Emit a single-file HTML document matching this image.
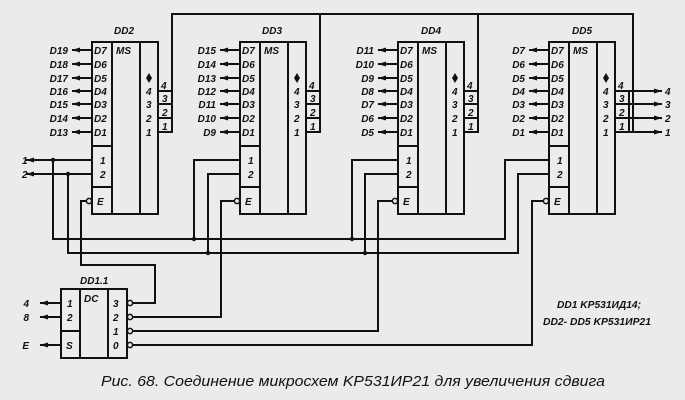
<!DOCTYPE html>
<html><head><meta charset="utf-8"><style>
html,body{margin:0;padding:0;background:#ebebe9;}
svg{display:block;}
text{font-family:"Liberation Sans",sans-serif;font-style:italic;font-weight:bold;fill:#111;}
.p{font-size:10px;}
</style></head><body>
<svg width="685" height="400" viewBox="0 0 685 400" xmlns="http://www.w3.org/2000/svg">
<defs>
<marker id="a" markerWidth="8" markerHeight="6" refX="0" refY="3" orient="auto" markerUnits="userSpaceOnUse">
<polygon points="0,3 8,0.5 8,5.5" fill="#111"/></marker>
<g id="blk" fill="none" stroke="#111" stroke-width="2">
<rect x="0" y="42" width="66" height="172"/>
<line x1="20" y1="42" x2="20" y2="214"/>
<line x1="48" y1="42" x2="48" y2="214"/>
<line x1="0" y1="146" x2="20" y2="146"/>
<line x1="0" y1="187" x2="20" y2="187"/>
<rect x="66" y="91" width="14" height="41"/>
<line x1="66" y1="104" x2="80" y2="104"/>
<line x1="66" y1="118" x2="80" y2="118"/>
<line x1="-20" y1="50" x2="0" y2="50" marker-start="url(#a)"/>
<line x1="-20" y1="64" x2="0" y2="64" marker-start="url(#a)"/>
<line x1="-20" y1="78" x2="0" y2="78" marker-start="url(#a)"/>
<line x1="-20" y1="91" x2="0" y2="91" marker-start="url(#a)"/>
<line x1="-20" y1="104" x2="0" y2="104" marker-start="url(#a)"/>
<line x1="-20" y1="118" x2="0" y2="118" marker-start="url(#a)"/>
<line x1="-20" y1="132" x2="0" y2="132" marker-start="url(#a)"/>
<circle cx="-3" cy="201" r="2.6" fill="#ebebe9" stroke-width="1.5"/>
<polygon points="57,73 60,78 57,83 54,78" fill="#111" stroke="none"/>
</g>
<g id="lbl">
<text class="p" x="2" y="54">D7</text><text class="p" x="2" y="68">D6</text>
<text class="p" x="2" y="82">D5</text><text class="p" x="2" y="95">D4</text>
<text class="p" x="2" y="108">D3</text><text class="p" x="2" y="122">D2</text>
<text class="p" x="2" y="136">D1</text>
<text class="p" x="24" y="54">MS</text>
<text class="p" x="54" y="95">4</text><text class="p" x="54" y="108">3</text>
<text class="p" x="54" y="122">2</text><text class="p" x="54" y="136">1</text>
<text class="p" x="8" y="164">1</text><text class="p" x="8" y="178">2</text>
<text class="p" x="5" y="205">E</text>
<text class="p" x="69" y="89">4</text><text class="p" x="70" y="102">3</text>
<text class="p" x="70" y="116">2</text><text class="p" x="70" y="130">1</text>
</g>
</defs>

<use href="#blk" x="92"/><use href="#lbl" x="92"/>
<use href="#blk" x="240"/><use href="#lbl" x="240"/>
<use href="#blk" x="398"/><use href="#lbl" x="398"/>
<use href="#blk" x="549"/><use href="#lbl" x="549"/>

<text class="p" x="114" y="34">DD2</text>
<text class="p" x="262" y="34">DD3</text>
<text class="p" x="421" y="34">DD4</text>
<text class="p" x="572" y="34">DD5</text>

<g class="p" text-anchor="end">
<text x="68" y="54">D19</text><text x="68" y="68">D18</text><text x="68" y="82">D17</text><text x="68" y="95">D16</text><text x="68" y="108">D15</text><text x="68" y="122">D14</text><text x="68" y="136">D13</text>
<text x="216" y="54">D15</text><text x="216" y="68">D14</text><text x="216" y="82">D13</text><text x="216" y="95">D12</text><text x="216" y="108">D11</text><text x="216" y="122">D10</text><text x="216" y="136">D9</text>
<text x="374" y="54">D11</text><text x="374" y="68">D10</text><text x="374" y="82">D9</text><text x="374" y="95">D8</text><text x="374" y="108">D7</text><text x="374" y="122">D6</text><text x="374" y="136">D5</text>
<text x="525" y="54">D7</text><text x="525" y="68">D6</text><text x="525" y="82">D5</text><text x="525" y="95">D4</text><text x="525" y="108">D3</text><text x="525" y="122">D2</text><text x="525" y="136">D1</text>
</g>

<g fill="none" stroke="#111" stroke-width="2">
<!-- top bus -->
<polyline points="172,132 172,14 633,14 633,132"/>
<line x1="320" y1="14" x2="320" y2="132"/>
<line x1="478" y1="14" x2="478" y2="132"/>
<!-- DD5 outputs -->
<line x1="662" y1="91" x2="629" y2="91" marker-start="url(#a)"/>
<line x1="662" y1="104" x2="629" y2="104" marker-start="url(#a)"/>
<line x1="662" y1="118" x2="629" y2="118" marker-start="url(#a)"/>
<line x1="662" y1="132" x2="629" y2="132" marker-start="url(#a)"/>
<!-- DD2 inputs -->
<line x1="26" y1="160" x2="92" y2="160" marker-start="url(#a)"/>
<line x1="26" y1="174" x2="92" y2="174" marker-start="url(#a)"/>
<!-- buses -->
<polyline points="53,160 53,239 505,239 505,160 549,160"/>
<polyline points="68,174 68,253 518,253 518,174 549,174"/>
<polyline points="240,160 194,160 194,239"/>
<polyline points="240,174 208,174 208,253"/>
<polyline points="398,160 352,160 352,239"/>
<polyline points="398,174 365,174 365,253"/>
<!-- E lines -->
<polyline points="86,201 81,201 81,265 155,265 155,303 133,303"/>
<polyline points="234,201 221,201 221,317 133,317"/>
<polyline points="392,201 378,201 378,331 133,331"/>
<polyline points="543,201 532,201 532,345 133,345"/>
<!-- DD1.1 -->
<rect x="61" y="289" width="66" height="69"/>
<line x1="80" y1="289" x2="80" y2="358"/>
<line x1="108" y1="289" x2="108" y2="358"/>
<line x1="61" y1="331" x2="80" y2="331"/>
<line x1="40" y1="303" x2="61" y2="303" marker-start="url(#a)"/>
<line x1="40" y1="317" x2="61" y2="317" marker-start="url(#a)"/>
<line x1="40" y1="345" x2="61" y2="345" marker-start="url(#a)"/>
<g fill="#ebebe9" stroke-width="1.5">
<circle cx="130" cy="303" r="2.6"/><circle cx="130" cy="317" r="2.6"/>
<circle cx="130" cy="331" r="2.6"/><circle cx="130" cy="345" r="2.6"/>
</g>
</g>
<g fill="#111">
<circle cx="53" cy="160" r="2.2"/><circle cx="68" cy="174" r="2.2"/>
<circle cx="194" cy="239" r="2.2"/><circle cx="208" cy="253" r="2.2"/>
<circle cx="352" cy="239" r="2.2"/><circle cx="365" cy="253" r="2.2"/>
</g>

<g class="p">
<text x="22" y="164">1</text><text x="22" y="178">2</text>
<text x="665" y="95">4</text><text x="665" y="108">3</text><text x="665" y="122">2</text><text x="665" y="136">1</text>
<text x="80" y="284">DD1.1</text>
<text x="67" y="307">1</text><text x="67" y="321">2</text><text x="66" y="349">S</text>
<text x="84" y="302">DC</text>
<text x="113" y="307">3</text><text x="113" y="321">2</text><text x="113" y="335">1</text><text x="113" y="349">0</text>
<text x="29" y="307" text-anchor="end">4</text>
<text x="29" y="321" text-anchor="end">8</text>
<text x="29" y="349" text-anchor="end">E</text>
<text x="557" y="308" textLength="84" lengthAdjust="spacingAndGlyphs">DD1  KP531ИД14;</text>
<text x="543" y="325" textLength="108" lengthAdjust="spacingAndGlyphs">DD2- DD5  KP531ИР21</text>
</g>
<text x="101" y="386" font-size="15" style="font-weight:normal" textLength="504" lengthAdjust="spacingAndGlyphs">Рис. 68. Соединение микросхем KP531ИР21 для увеличения сдвига</text>
</svg>
</body></html>
